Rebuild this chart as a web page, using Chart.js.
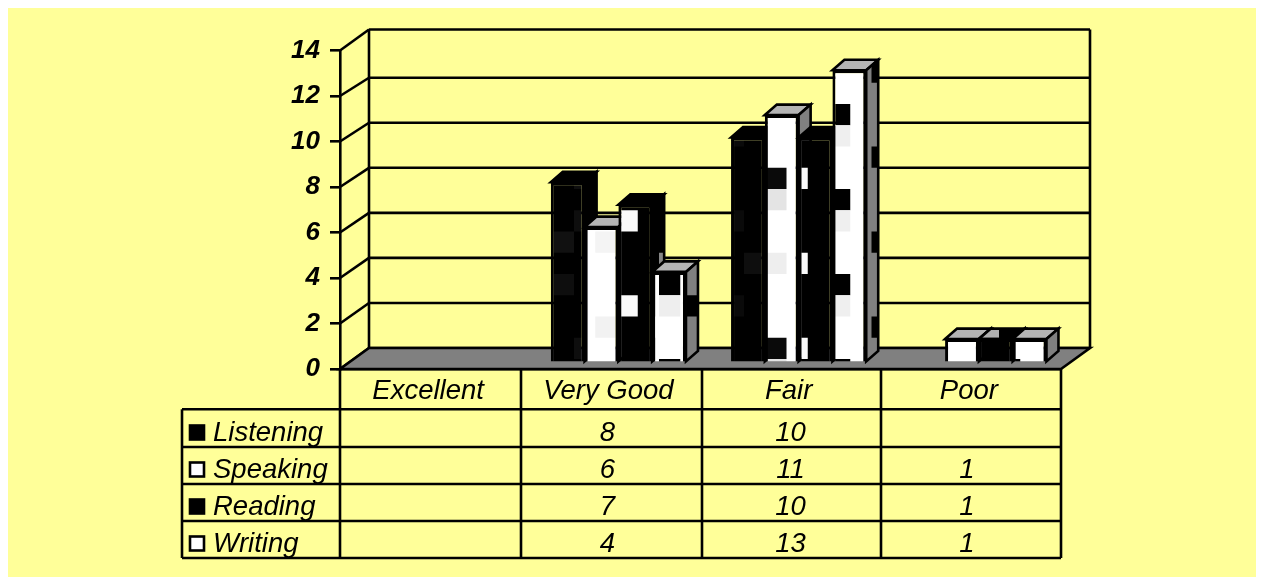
<!DOCTYPE html>
<html>
<head>
<meta charset="utf-8">
<title>Skills chart</title>
<style>
  html, body { margin: 0; padding: 0; background: #fff; overflow: hidden; }
  canvas { display: block; }
</style>
<script src="https://cdn.jsdelivr.net/npm/chart.js@4"></script>
</head>
<body>
<canvas id="chart" width="1264" height="577"></canvas>
<script>
const categories = ["Excellent", "Very Good", "Fair", "Poor"];
const seriesNames = ["Listening", "Speaking", "Reading", "Writing"];
const listening = [null, 8, 10, null];
const speaking = [null, 6, 11, 1];
const reading = [null, 7, 10, 1];
const writing = [null, 4, 13, 1];
const seriesValues = [listening, speaking, reading, writing];

// mosaic fills: [column, row, colour]
const listeningCells = [[7, 2, "#111"], [7, 4, "#0e0e0e"], [8, 1, "#0e0e0e"], [8, 7, "#0e0e0e"], [0, 3, "#0e0e0e"], [15, 1, "#0a0a0a"], [15, 5, "#0a0a0a"]];
const speakingCells = [[1, 7, "#0a0a0a"], [1, 3, "#eeeeee"], [1, 0, "#e4e4e4"], [9, 2, "#f4f4f4"], [9, 6, "#f2f2f2"]];
const readingCells = [[2, 7, "#fafafa"], [2, 3, "#fafafa"], [10, 1, "#fafafa"], [10, 5, "#fafafa"]];
const writingCells = [[4, 0, "#000"], [4, 4, "#000"], [12, 0, "#000"], [12, 4, "#000"], [4, 1, "#efefef"], [4, 5, "#efefef"], [12, 5, "#eeeeee"]];
const writingSideCells = [[6, 2, "#000"], [6, 6, "#000"], [13, 1, "#000"], [13, 5, "#000"]];
const readingSideCells = [[12, 3, "#868686"], [11, 6, "#b0b0b0"]];

const yellow = "#FFFF99";
const depth = { x: 12, y: 10.5 };   // bar depth
const wall = { x: 29, y: 21 };      // wall depth
const barShift = 8;
const columnEdges = [340, 521, 702, 881, 1061];
const rowBottoms = [447, 484, 521, 558];

const ctx0 = document.getElementById("chart").getContext("2d");

function tile(base, cells) {
  const c = document.createElement("canvas");
  c.width = 340;
  c.height = 170;
  const t = c.getContext("2d");
  t.fillStyle = base;
  t.fillRect(0, 0, 340, 170);
  cells.forEach(([col, row, colour]) => {
    t.fillStyle = colour;
    t.fillRect(col * 21.25, row * 21.25, 21.25, 21.25);
  });
  const p = ctx0.createPattern(c, "repeat");
  p.setTransform(new DOMMatrix().translate(64 - barShift, 19));
  return p;
}

const fronts = [tile("#000", listeningCells), tile("#fff", speakingCells), tile("#000", readingCells), tile("#fff", writingCells)];
const sides = ["#000", "#808080", tile("#000", readingSideCells), tile("#808080", writingSideCells)];
const tops = ["#000", "#b4b4b4", tile("#000", readingSideCells), "#b4b4b4"];

function poly(ctx, pts, fill) {
  ctx.beginPath();
  pts.forEach((p, i) => i ? ctx.lineTo(p[0], p[1]) : ctx.moveTo(p[0], p[1]));
  ctx.closePath();
  if (fill) {
    ctx.fillStyle = fill;
    ctx.fill();
  }
  ctx.stroke();
}

function line(ctx, x1, y1, x2, y2) {
  ctx.beginPath();
  ctx.moveTo(x1, y1);
  ctx.lineTo(x2, y2);
  ctx.stroke();
}

const wallsPlugin = {
  id: "walls",
  beforeDraw(chart) {
    const ctx = chart.ctx;
    const a = chart.chartArea;
    const y = chart.scales.y;
    ctx.save();
    ctx.fillStyle = "#fff";
    ctx.fillRect(0, 0, chart.width, chart.height);
    ctx.fillStyle = yellow;
    ctx.fillRect(8, 8, 1248, 569);
    ctx.strokeStyle = "#000";
    ctx.lineWidth = 2.6;

    const floorY = a.bottom - wall.y;
    y.ticks.forEach(t => {
      const fy = y.getPixelForValue(t.value);
      const by = t.value === y.max ? fy - wall.y : floorY - (a.bottom - fy) * 0.99;
      line(ctx, a.left, fy, a.left + wall.x, by);
      line(ctx, a.left + wall.x, by, a.right + wall.x, by);
    });
    line(ctx, a.left + wall.x, a.top - wall.y, a.left + wall.x, floorY);
    line(ctx, a.right + wall.x, a.top - wall.y, a.right + wall.x, floorY);
    poly(ctx, [[a.left, a.bottom], [a.left + wall.x, floorY], [a.right + wall.x, floorY], [a.right, a.bottom]], "#808080");
    ctx.restore();
  },
  beforeDatasetsDraw(chart) {
    // later series stand in front of earlier ones, so draw them in series order
    const ctx = chart.ctx;
    ctx.save();
    ctx.translate(barShift, 0);
    ctx.strokeStyle = "#000";
    ctx.lineWidth = 2.6;
    ctx.lineJoin = "miter";
    seriesValues.forEach((vals, i) => {
      const meta = chart.getDatasetMeta(i);
      meta.data.forEach((el, j) => {
        if (vals[j] === null) return;
        const l = el.x - el.width / 2, r = el.x + el.width / 2;
        poly(ctx, [[l, el.y], [l + depth.x, el.y - depth.y], [r + depth.x, el.y - depth.y], [r, el.y]], tops[i]);
        poly(ctx, [[r, el.y], [r + depth.x, el.y - depth.y], [r + depth.x, el.base - depth.y], [r, el.base]], sides[i]);
      });
      meta.controller.draw();
    });
    ctx.restore();
    return false;
  }
};

const tablePlugin = {
  id: "dataTable",
  afterDraw(chart) {
    const ctx = chart.ctx;
    const a = chart.chartArea;
    const headerBottom = 409.3;
    const tableLeft = 182;
    const last = rowBottoms[rowBottoms.length - 1];
    ctx.save();
    ctx.strokeStyle = "#000";
    ctx.lineWidth = 2.6;
    columnEdges.forEach(e => line(ctx, e, a.bottom, e, last));
    line(ctx, tableLeft, headerBottom, tableLeft, last);
    line(ctx, tableLeft, headerBottom, a.right, headerBottom);
    rowBottoms.forEach(b => line(ctx, tableLeft, b, a.right, b));

    ctx.font = "italic 27.5px 'Liberation Sans'";
    ctx.textBaseline = "alphabetic";
    seriesNames.forEach((name, r) => {
      const base = rowBottoms[r] - 6.5;
      ctx.textAlign = "left";
      ctx.fillStyle = "#000";
      ctx.fillText(name, 213, base);
      ctx.fillStyle = r % 2 ? "#fff" : "#000";
      ctx.fillRect(190, base - 15, 14, 14);
      ctx.strokeRect(190, base - 15, 14, 14);
      ctx.fillStyle = "#000";
      ctx.textAlign = "center";
      seriesValues[r].forEach((v, c) => {
        if (v === null) return;
        const mid = (columnEdges[c] + columnEdges[c + 1]) / 2;
        ctx.fillText(String(v), mid - (v < 10 ? 4 : 1), base);
      });
    });
    ctx.restore();
  }
};

new Chart(ctx0, {
  type: "bar",
  data: {
    labels: categories,
    datasets: seriesNames.map((name, i) => ({
      label: name,
      data: seriesValues[i],
      yAxisID: "yBars",
      backgroundColor: fronts[i],
      borderColor: "#000",
      borderWidth: 3,
      barPercentage: 1,
      categoryPercentage: 0.75
    }))
  },
  options: {
    responsive: false,
    devicePixelRatio: 1,
    animation: false,
    events: [],
    layout: { padding: { left: 280, top: 50.5, right: 203, bottom: 168 } },
    plugins: { legend: { display: false }, tooltip: { enabled: false }, title: { display: false } },
    scales: {
      x: {
        grid: { display: false },
        border: { color: "#000", width: 2.6 },
        ticks: { color: "#000", padding: -2, labelOffset: -2, maxRotation: 0, font: { family: "'Liberation Sans'", size: 27.5, style: "italic" } },
        afterFit(s) { s.height = 40; }
      },
      y: {
        min: 0,
        max: 14,
        ticks: { stepSize: 2, color: "#000", padding: 10, font: { family: "'Liberation Sans'", size: 26, style: "italic", weight: "bold" } },
        grid: { drawOnChartArea: false, color: "#000", lineWidth: 2.6, tickLength: 10 },
        border: { color: "#000", width: 2.6 },
        afterFit(s) { s.width = 60; }
      },
      // bars stand on the floor, behind the front edge and on a slightly shorter unit
      yBars: { display: false, min: -0.335, max: 13.884 }
    }
  },
  plugins: [wallsPlugin, tablePlugin]
});
</script>
</body>
</html>
